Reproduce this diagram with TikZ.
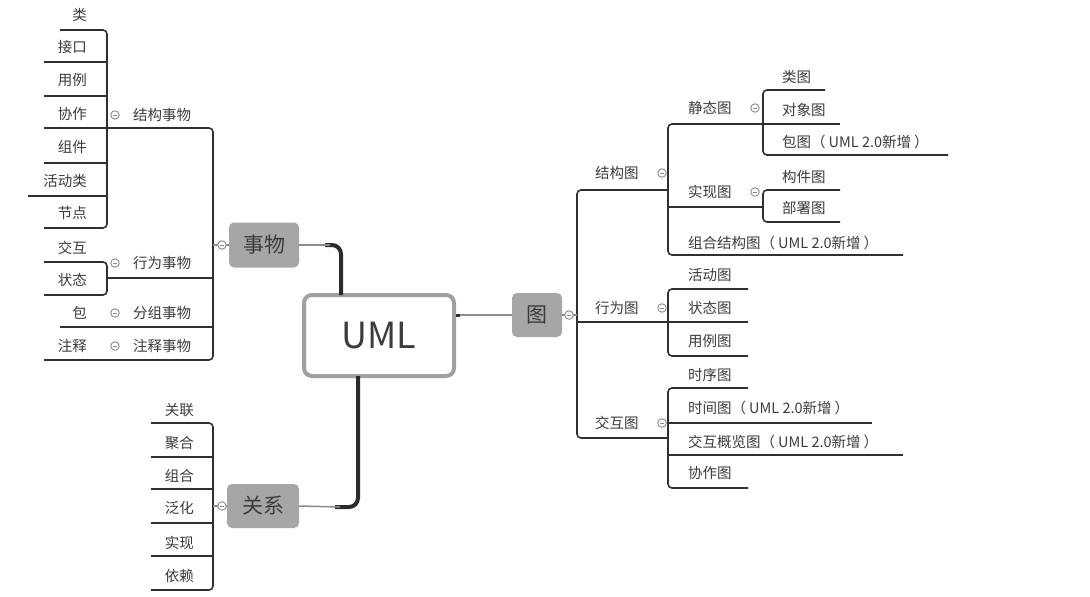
\documentclass[tikz,border=0pt]{standalone}
\usepackage{fontspec}
\setmainfont{Noto Sans CJK SC}
\usetikzlibrary{calc}
\definecolor{txt}{HTML}{3C3C3C}
\definecolor{ln}{HTML}{303030}
\definecolor{nodefill}{HTML}{A6A6A6}
\definecolor{boxline}{HTML}{A0A0A0}
\definecolor{thinln}{HTML}{8C8C8C}
\tikzset{
  leafW/.style={anchor=west,inner sep=0pt,text=txt,font=\fontsize{14.5}{16}\selectfont},
  leafE/.style={anchor=east,inner sep=0pt,text=txt,font=\fontsize{14.5}{16}\selectfont},
  bar/.style={draw=ln,line width=1.6pt,rounded corners=4pt},
  coll/.style={circle,draw=thinln,line width=0.9pt,minimum size=8.5pt,inner sep=0pt,fill=white},
  topic/.style={rectangle,rounded corners=5pt,fill=nodefill,text=txt,inner sep=0pt,font=\fontsize{21}{24}\selectfont},
  thick branch/.style={draw=ln!90!black,line width=4pt,rounded corners=9pt},
  thin branch/.style={draw=thinln,line width=1.5pt},
}
\newcommand{\collsym}[3]{\node[coll] (#1) at (#2,#3) {};
  \draw[thinln,line width=0.9pt] ([xshift=-2.2pt]#1.center) -- ([xshift=2.2pt]#1.center);}
\newcommand{\newin}{（\kern3pt UML 2.0新增\kern3pt）}
\begin{document}
\begin{tikzpicture}[x=1pt,y=-1pt]
\useasboundingbox (0,0) rectangle (1090,597);
\fill[white] (0,0) rectangle (1090,597);

% ---------- central topic ----------
\node[draw=boxline,line width=4pt,rounded corners=8pt,fill=white,minimum width=150pt,minimum height=81pt,inner sep=0pt,text=txt,font=\fontsize{36}{40}\selectfont] (uml) at (379,335.5) {UML};

% ---------- main topics ----------
\node[topic,minimum width=70pt,minimum height=45pt] (things) at (264,245) {事物};
\node[topic,minimum width=72pt,minimum height=44pt] (rel) at (263,506) {关系};
\node[topic,minimum width=50pt,minimum height=44pt] (dia) at (537,315) {图};

% branches from center
\draw[thick branch] ($(uml.north)+(-38,2)$) |- (325,245);
\draw[draw=ln,line width=2.5pt] (326,245) -- (330,245);
\draw[thin branch] (330,245) -- (things.east);
\draw[thick branch] ($(uml.south)+(-21,-2)$) |- (335,507);
\draw[draw=ln,line width=2.5pt] (336,507) -- (340,507);
\draw[thin branch] (340,507) -- (rel.east);
\draw[thin branch] (uml.east |- dia.west) -- (dia.west);
\draw[ln,line width=3pt] (uml.east |- dia.west) -- ++(4,0);

% ================= LEFT: 事物 =================
\node[leafE] (lei) at (87,15) {类};
\node[leafE] (jiekou) at (87,47) {接口};
\node[leafE] (yongli) at (87,80) {用例};
\node[leafE] (xiezuo) at (87,114) {协作};
\node[leafE] (zujian) at (87,147) {组件};
\node[leafE] (huodonglei) at (87,181) {活动类};
\node[leafE] (jiedian) at (87,213) {节点};
\node[leafE] (jiaohu) at (87,248) {交互};
\node[leafE] (zhuangtai) at (87,280) {状态};
\node[leafE] (bao) at (87,313) {包};
\node[leafE] (zhushi) at (87,346) {注释};

\node[leafW] (jgsw) at (133,115) {结构事物};
\node[leafW] (xwsw) at (133,263) {行为事物};
\node[leafW] (fzsw) at (133,313) {分组事物};
\node[leafW] (zssw) at (133,346) {注释事物};

% structural things cluster
\draw[bar] (60,30) -| (107,228) -- (44,228);
\draw[bar] (44,62) -- (107,62);
\draw[bar] (44,96) -- (107,96);
\draw[bar] (44,163) -- (107,163);
\draw[bar] (28,196) -- (107,196);
\draw[bar] (44,128) -- (107,128);
% behavioural cluster
\draw[bar] (44,262) -| (107,295) -- (44,295);
% main bar
\draw[bar] (107,128) -| (213,360) -- (44,360);
\draw[bar] (107,278) -- (213,278);
\draw[bar] (60,327) -- (213,327);
% collapse marks
\collsym{c1}{115}{115}
\collsym{c2}{115}{263}
\collsym{c3}{115}{313}
\collsym{c4}{115}{346}
\draw[thinln,line width=1.2pt] (213,245) -- (things.west);
\collsym{cthings}{222}{245}

% ================= LEFT: 关系 =================
\node[leafE] (guanlian) at (194,410) {关联};
\node[leafE] (juhe) at (194,443) {聚合};
\node[leafE] (zuhe) at (194,476) {组合};
\node[leafE] (fanhua) at (194,508) {泛化};
\node[leafE] (shixian) at (194,543) {实现};
\node[leafE] (yilai) at (194,576) {依赖};
\draw[bar] (151,423) -| (213,590) -- (151,590);
\draw[bar] (151,457) -- (213,457);
\draw[bar] (151,489) -- (213,489);
\draw[bar] (151,523) -- (213,523);
\draw[bar] (151,556) -- (213,556);
\draw[thinln,line width=1.2pt] (213,506) -- (rel.west);
\collsym{crel}{222}{506}

% ================= RIGHT: 图 =================
\node[leafW] (jgt) at (595,173) {结构图};
\node[leafW] (xwt) at (595,308) {行为图};
\node[leafW] (jht) at (595,423) {交互图};
\node[leafW] (jtt) at (688,108) {静态图};
\node[leafW] (sxt) at (688,192) {实现图};
\node[leafW] (zhjgt) at (688,243) {组合结构图\newin};
\node[leafW] (leitu) at (782,77) {类图};
\node[leafW] (dxt) at (782,110) {对象图};
\node[leafW] (baotu) at (782,142) {包图\newin};
\node[leafW] (gjt) at (782,177) {构件图};
\node[leafW] (bst) at (782,208) {部署图};
\node[leafW] (hdt) at (688,275) {活动图};
\node[leafW] (ztt) at (688,308) {状态图};
\node[leafW] (ylt) at (688,341) {用例图};
\node[leafW] (sxut) at (688,375) {时序图};
\node[leafW] (sjt) at (688,408) {时间图\newin};
\node[leafW] (jhgl) at (688,442) {交互概览图\newin};
\node[leafW] (xzt) at (688,473) {协作图};

% static cluster
\draw[bar] (825,90) -- (763,90) -- (763,155) -- (948,155);
\draw[bar] (763,124) -- (840,124);
% realisation cluster
\draw[bar] (840,190) -- (763,190) -- (763,222) -- (840,222);
\draw[bar] (668,207) -- (763,207);
% structure cluster
\draw[bar] (763,124) -- (668,124) -- (668,255) -- (903,255);
% behaviour cluster
\draw[bar] (748,289) -- (668,289) -- (668,356) -- (748,356);
\draw[bar] (668,322) -- (748,322);
% interaction cluster
\draw[bar] (748,388) -- (668,388) -- (668,488) -- (748,488);
\draw[bar] (668,423) -- (872,423);
\draw[bar] (668,455) -- (903,455);
% main bar
\draw[bar] (668,190) -- (577,190) -- (577,438) -- (668,438);
\draw[bar] (577,322) -- (668,322);
\draw[thinln,line width=1.2pt] (dia.east) -- (577,315);
\collsym{cdia}{569}{315}
% collapse marks
\collsym{r1}{662}{173}
\collsym{r2}{662}{308}
\collsym{r3}{662}{423}
\collsym{r4}{755}{108}
\collsym{r5}{755}{192}
\end{tikzpicture}
\end{document}
